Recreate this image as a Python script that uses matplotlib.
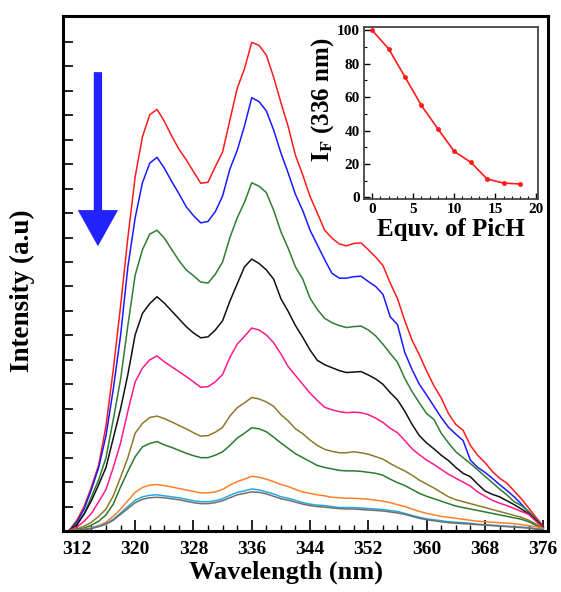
import matplotlib
matplotlib.use("Agg")
import matplotlib.pyplot as plt
from matplotlib.ticker import MultipleLocator

plt.rcParams['font.family'] = ['Liberation Serif', 'DejaVu Serif']
plt.rcParams['font.weight'] = 'bold'
plt.rcParams['mathtext.fontset'] = 'stix'

# ---- data ----
wavelength = list(range(311, 377))

red = [2, 22, 50, 90, 135, 215, 330, 460, 600, 724, 806, 851, 862, 838, 808, 781, 759, 735, 711, 713,
       745, 775, 840, 905, 945, 999, 993, 973, 928, 876, 827, 768, 728, 684, 650, 615, 599, 587, 583, 588,
       589, 575, 560, 543, 507, 475, 430, 390, 360, 327, 297, 272, 240, 218, 206, 175, 155, 140, 122, 108,
       98, 82, 66, 47, 28, 10]
blue = [2, 18, 45, 85, 130, 195, 290, 400, 540, 640, 712, 752, 764, 742, 715, 690, 663, 645, 630, 633,
        653, 685, 740, 778, 828, 886, 878, 859, 820, 773, 732, 688, 655, 615, 585, 555, 527, 517, 517, 520,
        521, 510, 500, 484, 438, 422, 365, 330, 300, 278, 255, 232, 212, 198, 185, 145, 130, 120, 108, 95,
        83, 70, 55, 38, 22, 8]
green1 = [2, 15, 35, 70, 105, 150, 228, 310, 420, 523, 575, 607, 615, 599, 576, 553, 534, 522, 509, 507,
          525, 550, 600, 640, 672, 712, 705, 692, 656, 612, 578, 540, 515, 476, 453, 435, 426, 420, 416, 418,
          419, 411, 399, 382, 363, 345, 312, 285, 262, 240, 228, 200, 180, 162, 150, 138, 125, 112, 99, 86,
          74, 60, 52, 40, 25, 8]
black = [2, 12, 35, 62, 95, 130, 190, 250, 320, 401, 445, 465, 479, 466, 450, 434, 418, 405, 395, 397,
         411, 430, 470, 505, 540, 556, 547, 534, 515, 475, 449, 420, 396, 370, 349, 340, 334, 328, 324, 325,
         326, 319, 311, 300, 283, 268, 245, 218, 195, 180, 168, 155, 144, 130, 118, 111, 96, 82, 75, 70,
         62, 54, 45, 35, 22, 8]
pink = [2, 8, 20, 36, 60, 85, 130, 180, 245, 305, 333, 350, 358, 346, 336, 326, 316, 305, 294, 295,
        305, 320, 355, 382, 398, 415, 411, 401, 385, 362, 336, 318, 300, 282, 267, 253, 248, 244, 242, 243,
        242, 238, 231, 222, 210, 201, 185, 168, 156, 145, 136, 126, 116, 108, 100, 92, 80, 71, 63, 57,
        52, 46, 40, 34, 20, 6]
olive = [1, 4, 10, 18, 30, 45, 72, 110, 150, 200, 220, 232, 235, 230, 223, 216, 209, 201, 194, 195,
         202, 212, 235, 252, 262, 273, 270, 264, 255, 238, 225, 209, 199, 186, 175, 167, 163, 160, 160, 162,
         160, 157, 152, 147, 138, 130, 123, 114, 104, 96, 88, 79, 70, 64, 60, 56, 52, 48, 44, 40,
         36, 32, 28, 22, 14, 5]
green2 = [1, 3, 6, 12, 20, 33, 55, 90, 122, 152, 172, 179, 183, 176, 171, 165, 159, 154, 150, 150,
          155, 162, 175, 190, 200, 211, 209, 203, 192, 180, 169, 158, 150, 142, 134, 130, 127, 124, 123, 123,
          122, 120, 118, 114, 106, 99, 93, 85, 77, 71, 66, 61, 56, 51, 48, 45, 42, 39, 36, 33,
          30, 27, 24, 19, 12, 4]
orange = [0, 2, 4, 7, 11, 18, 30, 45, 62, 79, 89, 94, 95, 93, 90, 87, 84, 81, 78, 78,
          80, 85, 94, 101, 106, 112, 110, 106, 101, 95, 91, 85, 80, 77, 74, 72, 69, 68, 67, 67,
          66, 65, 63, 61, 58, 54, 50, 45, 40, 36, 33, 30, 28, 26, 24, 22, 20, 19, 18, 17,
          16, 15, 13, 11, 9, 5]
cyan = [0, 1, 3, 6, 10, 15, 24, 37, 50, 63, 70, 73, 74, 72, 70, 68, 65, 62, 60, 60,
        62, 66, 73, 79, 82, 86, 84, 80, 76, 70, 67, 63, 58, 55, 53, 52, 50, 48, 48, 48,
        47, 46, 45, 44, 42, 40, 36, 32, 28, 25, 23, 21, 19, 18, 17, 16, 14, 13, 12, 11,
        10, 9, 8, 7, 5, 3]
gray = [0, 1, 3, 5, 9, 14, 22, 34, 46, 58, 65, 68, 69, 68, 66, 64, 61, 58, 56, 56,
        58, 62, 68, 74, 77, 80, 79, 76, 71, 66, 63, 59, 55, 52, 50, 49, 47, 46, 45, 45,
        44, 43, 42, 41, 39, 37, 34, 30, 26, 23, 21, 19, 17, 16, 15, 14, 13, 12, 11, 10,
        9, 8, 7, 6, 4, 2]

series = [red, blue, green1, black, pink, olive, green2, orange, cyan, gray]
colors = ['#ff1a1a', '#1a1aff', '#2e7d32', '#111111', '#ff1a8c', '#8c7a2a', '#2a7a30',
          '#ff7f2a', '#29a9e0', '#6e6e6e']

equiv = [0, 2, 4, 6, 8, 10, 12, 14, 16, 18]
IF336 = [100, 89, 72, 55, 41, 27.5, 21, 11, 8.5, 8]

xticks = [312, 320, 328, 336, 344, 352, 360, 368, 376]

# ---- figure ----
fig = plt.figure(figsize=(5.61, 5.92), dpi=100)
ax = fig.add_axes([0.1123, 0.1030, 0.8645, 0.8700])

for s, c in zip(series, colors):
    ax.plot(wavelength, s, color=c, lw=1.1)

ax.set_xlim(310.1, 376.65)
ax.set_ylim(0, 1053)
ax.set_xticks(xticks)
ax.xaxis.set_minor_locator(MultipleLocator(2))
ax.yaxis.set_major_locator(MultipleLocator(50))
ax.tick_params(axis='y', which='both', direction='in', length=7, width=1.2, labelleft=False)
ax.tick_params(axis='x', which='major', direction='in', length=8, width=1.2, labelsize=14, pad=7)
ax.tick_params(axis='x', which='minor', direction='in', length=4, width=1.0)
for sp in ax.spines.values():
    sp.set_linewidth(2.2)
for lab in ax.get_xticklabels():
    lab.set_fontweight('bold')
ax.set_xlabel('Wavelength (nm)', fontsize=19, fontweight='bold')
ax.xaxis.set_label_coords(0.46, -0.058)
ax.set_ylabel('Intensity (a.u)', fontsize=19.5, fontweight='bold')
ax.yaxis.set_label_coords(-0.058, 0.466)

# blue arrow
ax.annotate('', xy=(0.072, 0.553), xytext=(0.072, 0.891), xycoords='axes fraction',
            arrowprops=dict(arrowstyle='simple,head_width=29,head_length=26,tail_width=6',
                            mutation_scale=1, color='#2222ff', shrinkA=0, shrinkB=0, lw=0))

# inset
ins = fig.add_axes([0.6488, 0.6639, 0.3102, 0.2905])
ins.plot(equiv, IF336, color='#ff1a1a', lw=1.2, marker='o', ms=2.5)
ins.set_xlim(-1, 20.2)
ins.set_ylim(-1, 102)
ins.set_xticks([0, 5, 10, 15, 20])
ins.set_yticks([0, 20, 40, 60, 80, 100])
ins.xaxis.set_minor_locator(MultipleLocator(1))
ins.yaxis.set_minor_locator(MultipleLocator(10))
ins.tick_params(which='major', direction='in', length=4, width=1, labelsize=11, pad=3)
ins.tick_params(which='minor', direction='in', length=2, width=0.8)
for sp in ins.spines.values():
    sp.set_linewidth(1.3)
    sp.set_color('#444444')
for lab in ins.get_xticklabels() + ins.get_yticklabels():
    lab.set_fontweight('bold')
ins.set_xlabel('Equv. of PicH', fontsize=18, fontweight='bold', labelpad=1)
ins.set_ylabel(r'$\mathbf{I}_{\mathbf{F}}$ (336 nm)', fontsize=18, fontweight='bold')
ins.yaxis.set_label_coords(-0.16, 0.575)

fig.savefig('out.png', dpi=100)
